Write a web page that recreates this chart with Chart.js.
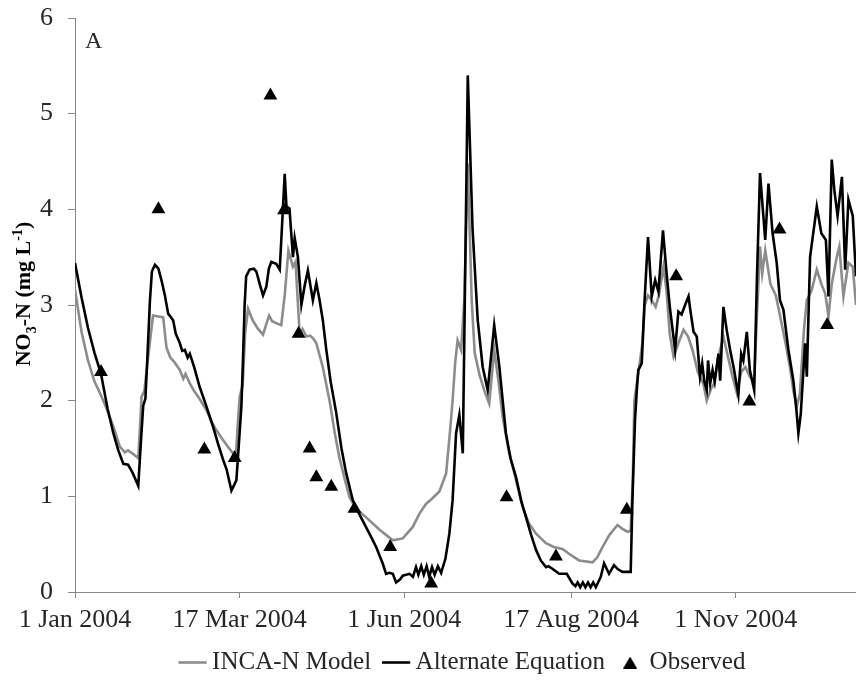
<!DOCTYPE html>
<html>
<head>
<meta charset="utf-8">
<title>NO3-N</title>
<script src="https://cdn.jsdelivr.net/npm/chart.js@4.4.1/dist/chart.umd.min.js"></script>
<style>
  html, body { margin: 0; padding: 0; background: #fff; }
  #wrap { width: 856px; height: 681px; }
</style>
</head>
<body>
<div id="wrap"><canvas id="myChart" width="856" height="681"></canvas></div>
<script>
// days counted from 1 Jan 2004
const tickDays = [0, 76, 152, 229, 305];
const tickLabels = ['1 Jan 2004', '17 Mar 2004', '1 Jun 2004', '17 Aug 2004', '1 Nov 2004'];
const yTicks = [0, 1, 2, 3, 4, 5, 6];

const incaDays = [0, 3, 6, 9, 11.5, 14, 17.7, 20.7, 23, 24.5, 27, 29.2, 30.2, 30.7, 32, 34, 36, 38.5, 40.7, 42.2,
  44, 46, 48.4, 50, 51, 53, 55, 57.5, 60.7, 63, 65.3, 68, 70.5, 72.9, 74.4, 75, 76, 77.4, 78.5, 79.9,
  82, 84.5, 86.8, 88, 89.6, 91, 92.9, 95.2, 96.8, 98.5, 100.6, 101.8, 103.7, 105, 106.8, 108.5, 110, 111.4, 114.4, 117.5,
  120, 122, 124.5, 126.7, 129.8, 134.4, 140.6, 146.7, 151.3, 155.9, 159, 162, 165, 168.2, 171.3, 172.8, 174.3, 175.5, 176.6, 178.2,
  179.7, 181.3, 183.1, 184.5, 186.6, 189, 191.2, 193.5, 195.5, 197.4, 200, 202, 204.5, 206.6, 209.5, 212.8, 217.4, 221, 225, 228,
  232.7, 238.9, 241, 243.5, 246.5, 250.4, 252.7, 255, 256.5, 257.5, 258.2, 260.4, 261.9, 263, 264.5, 266.2, 268, 269.5, 271.6, 273,
  274.5, 276.3, 278.5, 280.9, 283, 285, 287.5, 290, 291.6, 293.5, 295, 297, 299.3, 301.5, 303.5, 305.5, 307.5, 309.5, 311.5, 313.5,
  314.8, 316.2, 317.2, 318.6, 321, 323.5, 325.5, 328, 330, 331.6, 333.2, 334.6, 336.5, 337.8, 340, 342.4, 344.5, 346.3, 347.8, 349.3,
  351.6, 352.8, 354.7, 357, 359, 360.5];
const incaValues = [3.16, 2.72, 2.42, 2.2, 2.08, 1.95, 1.73, 1.52, 1.46, 1.48, 1.44, 1.40, 1.8, 2.04, 2.1, 2.5, 2.89, 2.88, 2.87, 2.56,
  2.45, 2.4, 2.32, 2.23, 2.28, 2.18, 2.1, 2.02, 1.90, 1.78, 1.69, 1.6, 1.52, 1.45, 1.47, 1.7, 2.04, 2.16, 2.7, 2.96,
  2.84, 2.75, 2.69, 2.78, 2.89, 2.83, 2.81, 2.79, 3.1, 3.57, 3.40, 3.45, 2.70, 2.75, 2.67, 2.68, 2.65, 2.60, 2.35, 2.0,
  1.65, 1.41, 1.18, 0.99, 0.87, 0.78, 0.65, 0.54, 0.56, 0.68, 0.82, 0.92, 0.98, 1.05, 1.24, 1.6, 2.0, 2.4, 2.63, 2.53,
  3.05, 4.48, 3.05, 2.5, 2.28, 2.1, 1.97, 2.53, 2.2, 1.83, 1.5, 1.31, 1.08, 0.89, 0.72, 0.61, 0.51, 0.47, 0.45, 0.40,
  0.33, 0.31, 0.36, 0.47, 0.59, 0.70, 0.66, 0.63, 0.64, 1.2, 2.0, 2.35, 2.6, 3.0, 3.1, 3.05, 2.98, 3.1, 3.40, 3.16,
  2.7, 2.46, 2.6, 2.74, 2.67, 2.53, 2.3, 2.18, 2.0, 2.12, 2.18, 2.46, 2.67, 2.45, 2.25, 2.08, 2.3, 2.35, 2.25, 2.2,
  2.9, 3.61, 3.33, 3.57, 3.22, 3.1, 2.88, 2.6, 2.35, 2.1, 1.94, 2.07, 2.75, 3.05, 3.15, 3.37, 3.22, 3.12, 2.88, 3.22,
  3.50, 3.61, 3.09, 3.44, 3.40, 3.0];

const altDays = [0, 3, 6, 9, 12, 15, 17.7, 20, 22.3, 24.5, 26.5, 29.2, 30.5, 31.5, 32.5, 33.5, 34.6, 35.5, 36.9, 38.5,
  40, 41.5, 43, 45.3, 46.5, 48.4, 49.5, 50.7, 52, 53, 55, 57.6, 60.5, 63.7, 66, 68.4, 70, 72.2, 73.5, 74.5,
  75.5, 76.8, 77.5, 78.3, 79, 80.6, 82.5, 83.7, 85.5, 86.8, 88.3, 89.5, 90.6, 92.9, 94.5, 95.5, 96.8, 97.6, 99, 100.6,
  101.4, 102.9, 104.5, 106, 107.5, 109.8, 111.4, 112.9, 114.4, 116, 118, 120.6, 123, 125.2, 128.2, 130, 132, 135.9, 139, 142,
  143.6, 145, 146.7, 148.2, 150, 151.3, 154.4, 156, 157.4, 158.5, 159.8, 161, 162.3, 163.5, 164.8, 166, 167.5, 169, 171, 172.8,
  174.3, 175.9, 177.4, 179, 181.3, 183.5, 185.9, 188.2, 190.5, 193.5, 195.9, 198.9, 201, 203.6, 206, 208.2, 210.5, 212.8, 215, 217.4,
  218.5, 220.5, 223.5, 227, 229.6, 231, 232, 233.2, 234.4, 235.6, 236.8, 238, 239.2, 240.4, 242.7, 244.2, 246.5, 248.8, 250.5, 252.7,
  256.5, 257.3, 258.5, 259.3, 260, 261.6, 262.8, 264.5, 266.2, 267.8, 269.3, 271.4, 273.2, 274.7, 277, 278.5, 280, 281.6, 283.2, 284,
  285.5, 287, 288.5, 289.5, 290.5, 291.6, 292.2, 293.2, 294.3, 295.3, 297, 297.8, 299.3, 300.8, 302.4, 304, 306.2, 307.5, 308.5, 310.1,
  311.5, 313.5, 314.8, 316.2, 318.6, 320.1, 322, 323.9, 325.4, 327, 329.3, 331.6, 333, 333.9, 335, 337, 337.8, 339.3, 342.4, 344.5,
  346.6, 347.8, 349.3, 350.5, 352, 354, 355.5, 357, 359, 360.5];
const altValues = [3.44, 3.08, 2.76, 2.50, 2.28, 1.92, 1.66, 1.48, 1.34, 1.33, 1.25, 1.11, 1.6, 1.95, 2.02, 2.5, 3.05, 3.35, 3.42, 3.38,
  3.25, 3.1, 2.91, 2.84, 2.7, 2.6, 2.52, 2.53, 2.45, 2.49, 2.35, 2.14, 1.95, 1.73, 1.55, 1.38, 1.28, 1.06, 1.12, 1.17,
  1.5, 1.94, 2.4, 3.0, 3.3, 3.37, 3.38, 3.35, 3.2, 3.1, 3.19, 3.38, 3.45, 3.43, 3.37, 3.8, 4.37, 4.03, 4.01, 3.5,
  3.70, 3.5, 3.0, 3.2, 3.36, 3.05, 3.23, 3.05, 2.84, 2.53, 2.2, 1.87, 1.5, 1.24, 0.96, 0.87, 0.78, 0.61, 0.47, 0.30,
  0.19, 0.20, 0.19, 0.10, 0.13, 0.17, 0.19, 0.16, 0.26, 0.18, 0.27, 0.18, 0.27, 0.16, 0.26, 0.18, 0.27, 0.20, 0.35, 0.61,
  0.96, 1.66, 1.85, 1.45, 5.40, 3.8, 2.84, 2.35, 2.11, 2.79, 2.35, 1.66, 1.40, 1.20, 0.95, 0.78, 0.60, 0.44, 0.33, 0.26,
  0.27, 0.24, 0.19, 0.19, 0.09, 0.06, 0.10, 0.05, 0.10, 0.05, 0.10, 0.05, 0.10, 0.05, 0.16, 0.30, 0.19, 0.28, 0.24, 0.21,
  0.21, 0.96, 1.8, 2.1, 2.32, 2.39, 3.0, 3.71, 3.09, 3.26, 3.14, 3.78, 3.30, 2.95, 2.53, 2.93, 2.9, 3.0, 3.09, 2.95,
  2.72, 2.67, 2.25, 2.39, 2.2, 2.11, 2.42, 2.18, 2.32, 2.2, 2.49, 2.21, 2.98, 2.74, 2.53, 2.35, 2.06, 2.49, 2.42, 2.72,
  2.32, 2.11, 3.3, 4.38, 3.68, 4.27, 3.75, 3.44, 3.05, 2.95, 2.53, 2.21, 1.9, 1.66, 1.86, 2.60, 2.25, 3.5, 4.03, 3.75,
  3.68, 3.09, 4.52, 4.2, 3.93, 4.34, 3.37, 4.10, 3.93, 3.3];

const obsDays = [12, 38.5, 59.7, 73.7, 90.2, 96.5, 103.2, 108.3, 111.4, 118.3, 129, 145.5, 164.4, 199.2, 222, 254.7, 277.5, 311.3, 325.2, 347.2];
const obsValues = [2.30, 4.00, 1.49, 1.40, 5.19, 3.99, 2.70, 1.50, 1.20, 1.10, 0.87, 0.47, 0.09, 0.99, 0.37, 0.86, 3.30, 1.99, 3.79, 2.79];

const toPoints = (xs, ys) => xs.map((x, i) => ({ x: x, y: ys[i] }));

const FONT = '"Liberation Serif", "Times New Roman", serif';
const TEXT = '#262626';
const AXIS = '#888888';

// small filled triangle used as the legend symbol for the observations
const triImg = document.createElement('canvas');
triImg.width = 14; triImg.height = 12;
(function () {
    const c = triImg.getContext('2d');
    c.fillStyle = '#000';
    c.beginPath();
    c.moveTo(7, 0); c.lineTo(14, 12); c.lineTo(0, 12);
    c.closePath();
    c.fill();
})();

// y axis title with subscript / superscript, and the panel letter
const extraText = {
    id: 'extraText',
    afterDraw(chart) {
        const ctx = chart.ctx;
        const runs = [
            { t: 'NO', size: 22, dy: 0 },
            { t: '3', size: 14, dy: 6 },
            { t: '-N (mg L', size: 22, dy: 0 },
            { t: '-1', size: 14, dy: -8 },
            { t: ')', size: 22, dy: 0 }
        ];
        ctx.save();
        let total = 0;
        runs.forEach(r => {
            ctx.font = 'bold ' + r.size + 'px ' + FONT;
            r.w = ctx.measureText(r.t).width;
            total += r.w;
        });
        ctx.translate(30, 294);
        ctx.rotate(-Math.PI / 2);
        ctx.fillStyle = '#000';
        ctx.textBaseline = 'alphabetic';
        let x = -total / 2;
        runs.forEach(r => {
            ctx.font = 'bold ' + r.size + 'px ' + FONT;
            ctx.fillText(r.t, x, r.dy);
            x += r.w;
        });
        ctx.restore();

        ctx.save();
        ctx.font = '24px ' + FONT;
        ctx.fillStyle = TEXT;
        ctx.textBaseline = 'alphabetic';
        ctx.fillText('A', 85, 48);
        ctx.restore();
    }
};

const config = {
    data: {
        datasets: [{
            type: 'line',
            label: 'INCA-N Model',
            data: toPoints(incaDays, incaValues),
            borderColor: '#8c8c8c',
            backgroundColor: '#8c8c8c',
            borderWidth: 2.6,
            pointRadius: 0,
            pointStyle: 'line',
            tension: 0,
            order: 3
        }, {
            type: 'line',
            label: 'Alternate Equation',
            data: toPoints(altDays, altValues),
            borderColor: '#000000',
            backgroundColor: '#000000',
            borderWidth: 2.6,
            pointRadius: 0,
            pointStyle: 'line',
            tension: 0,
            order: 2
        }, {
            type: 'scatter',
            label: 'Observed',
            data: toPoints(obsDays, obsValues),
            pointStyle: 'triangle',
            pointRadius: 8,
            backgroundColor: '#000000',
            borderColor: '#000000',
            borderWidth: 0,
            order: 1
        }]
    },
    options: {
        responsive: false,
        animation: false,
        devicePixelRatio: 1,
        layout: { autoPadding: false, padding: { top: 18, left: 0, right: 0, bottom: -4 } },
        plugins: {
            tooltip: { enabled: false },
            legend: {
                position: 'bottom',
                fullSize: false,
                labels: {
                    usePointStyle: true,
                    boxWidth: 14,
                    boxHeight: 20,
                    padding: 18,
                    color: TEXT,
                    font: { family: FONT, size: 25 },
                    sort: (a, b) => a.datasetIndex - b.datasetIndex,
                    generateLabels: function (chart) {
                        const items = Chart.defaults.plugins.legend.labels.generateLabels(chart);
                        items.forEach(it => {
                            if (it.text === 'Observed') it.pointStyle = triImg;
                        });
                        return items;
                    }
                }
            }
        },
        scales: {
            x: {
                type: 'linear',
                min: 0,
                max: 360.5,
                afterBuildTicks: (scale) => {
                    scale.ticks = tickDays.map(v => ({ value: v }));
                },
                afterFit: (scale) => {
                    scale.height = 40;
                    scale.paddingLeft = 0;
                    scale.paddingRight = 0;
                },
                ticks: {
                    autoSkip: false,
                    maxRotation: 0,
                    padding: 7,
                    color: TEXT,
                    font: { family: FONT, size: 26 },
                    callback: (value) => tickLabels[tickDays.indexOf(value)]
                },
                grid: { drawOnChartArea: false, drawTicks: true, tickLength: 6, color: AXIS },
                border: { display: true, color: AXIS, width: 1 }
            },
            y: {
                min: 0,
                max: 6,
                afterBuildTicks: (scale) => {
                    scale.ticks = yTicks.map(v => ({ value: v }));
                },
                afterFit: (scale) => {
                    scale.width = 75;
                    scale.paddingTop = 0;
                    scale.paddingBottom = 0;
                },
                ticks: {
                    padding: 15,
                    color: TEXT,
                    font: { family: FONT, size: 26 }
                },
                grid: { drawOnChartArea: false, drawTicks: true, tickLength: 7, color: AXIS },
                border: { display: true, color: AXIS, width: 1 }
            }
        }
    },
    plugins: [extraText]
};

const ctx = document.getElementById('myChart').getContext('2d');
const myChart = new Chart(ctx, config);
</script>
</body>
</html>
